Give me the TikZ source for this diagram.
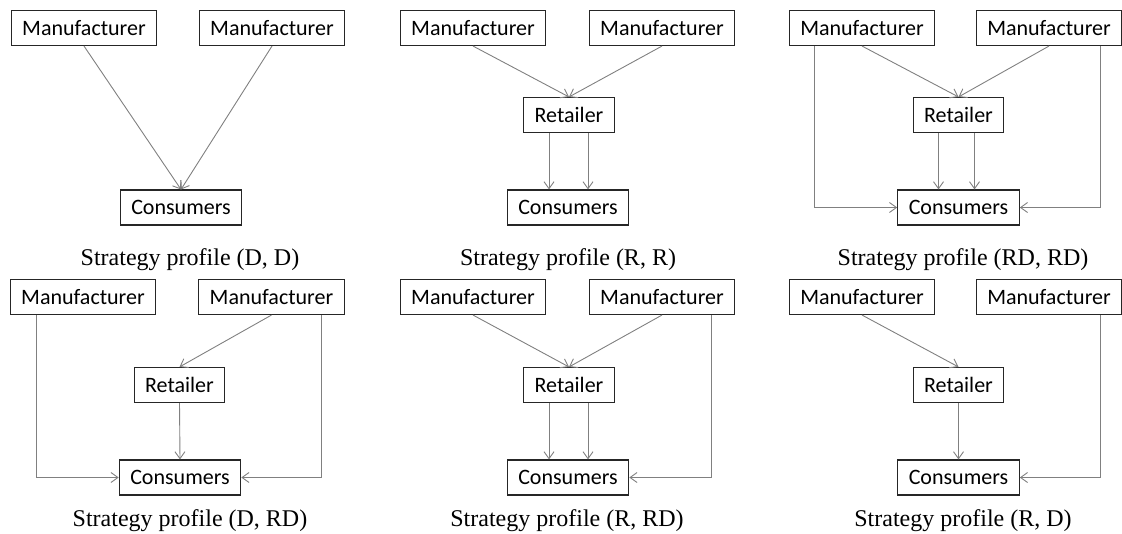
\documentclass[tikz,border=0pt]{standalone}
\usepackage{fontspec}
\setmainfont{Liberation Serif}
\newfontfamily\boxfont{Carlito}
\usetikzlibrary{arrows.meta}
\begin{document}
\begin{tikzpicture}[x=1pt,y=-1pt,
  ent/.style={draw=black!85, line width=1.1pt, minimum height=35pt, inner xsep=11pt, inner ysep=0pt, font=\boxfont\fontsize{22}{26}\selectfont},
  captext/.style={anchor=base, font=\fontsize{24}{28}\selectfont},
  link/.style={draw=black!50, line width=0.9pt, -{Straight Barb[length=7pt,width=10pt]}}]
\useasboundingbox (0,0) rectangle (1122,533);
% Panel 1 (D, D)
\node[ent] (a1) at (84,28) {Manufacturer};
\node[ent] (a2) at (272,28) {Manufacturer};
\node[ent] (ac) at (181,207.5) {Consumers};
\node[captext] (acap) at (190,265) {Strategy profile (D, D)};
\draw[link] (a1.south) -- (ac.north);
\draw[link] (a2.south) -- (ac.north);
% Panel 2 (R, R)
\node[ent] (b1) at (473,28) {Manufacturer};
\node[ent] (b2) at (662,28) {Manufacturer};
\node[ent] (br) at (569,115) {Retailer};
\node[ent] (bc) at (568,207.5) {Consumers};
\node[captext] (bcap) at (568,265) {Strategy profile (R, R)};
\draw[link] (b1.south) -- (br.north);
\draw[link] (b2.south) -- (br.north);
\draw[link] ([xshift=-20pt]br.south) -- ([xshift=-20pt]br.south |- bc.north);
\draw[link] ([xshift=19pt]br.south) -- ([xshift=19pt]br.south |- bc.north);
% Panel 3 (RD, RD)
\node[ent] (c1) at (862,28) {Manufacturer};
\node[ent] (c2) at (1049,28) {Manufacturer};
\node[ent] (cr) at (958.5,115) {Retailer};
\node[ent] (cc) at (958.5,207.5) {Consumers};
\node[captext] (ccap) at (963,265) {Strategy profile (RD, RD)};
\draw[link] (c1.south) -- (cr.north);
\draw[link] (c2.south) -- (cr.north);
\draw[link] ([xshift=-20pt]cr.south) -- ([xshift=-20pt]cr.south |- cc.north);
\draw[link] ([xshift=16pt]cr.south) -- ([xshift=16pt]cr.south |- cc.north);
\draw[link] ([xshift=-48pt]c1.south) |- (cc.west);
\draw[link] ([xshift=51pt]c2.south) |- (cc.east);
% Panel 4 (D, RD)
\node[ent] (d1) at (83,297) {Manufacturer};
\node[ent] (d2) at (271.5,297) {Manufacturer};
\node[ent] (dr) at (179.5,385) {Retailer};
\node[ent] (dc) at (180,477.5) {Consumers};
\node[captext] (dcap) at (190,526) {Strategy profile (D, RD)};
\draw[link] (d2.south) -- (dr.north);
\draw[link] (dr.south) -- (dc.north);
\draw[link] ([xshift=-47pt]d1.south) |- (dc.west);
\draw[link] ([xshift=50pt]d2.south) |- (dc.east);
% Panel 5 (R, RD)
\node[ent] (e1) at (473,297) {Manufacturer};
\node[ent] (e2) at (662,297) {Manufacturer};
\node[ent] (er) at (569,385) {Retailer};
\node[ent] (ec) at (568,477.5) {Consumers};
\node[captext] (ecap) at (567,526) {Strategy profile (R, RD)};
\draw[link] (e1.south) -- (er.north);
\draw[link] (e2.south) -- (er.north);
\draw[link] ([xshift=-20pt]er.south) -- ([xshift=-20pt]er.south |- ec.north);
\draw[link] ([xshift=19pt]er.south) -- ([xshift=19pt]er.south |- ec.north);
\draw[link] ([xshift=49pt]e2.south) |- (ec.east);
% Panel 6 (R, D)
\node[ent] (f1) at (862,297) {Manufacturer};
\node[ent] (f2) at (1049,297) {Manufacturer};
\node[ent] (fr) at (958.5,385) {Retailer};
\node[ent] (fc) at (958.5,477.5) {Consumers};
\node[captext] (fcap) at (963,526) {Strategy profile (R, D)};
\draw[link] (f1.south) -- (fr.north);
\draw[link] (fr.south) -- (fc.north);
\draw[link] ([xshift=51pt]f2.south) |- (fc.east);
\end{tikzpicture}
\end{document}
